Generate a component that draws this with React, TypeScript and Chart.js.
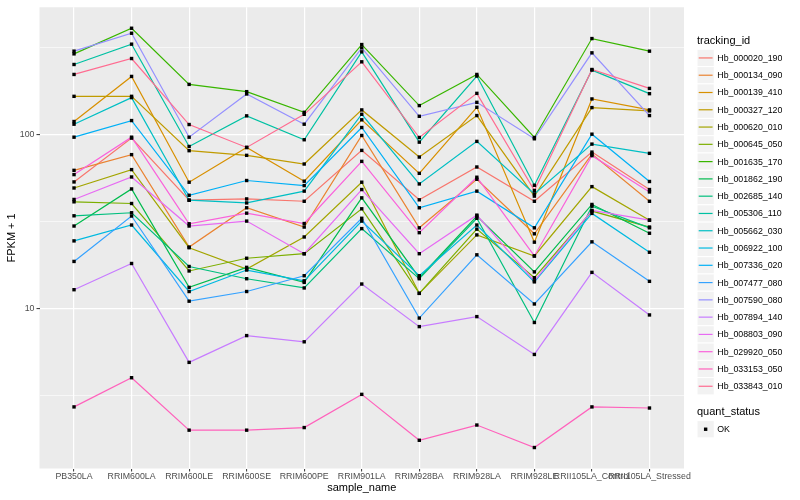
import React, { useEffect, useRef } from 'react';
import { Chart, registerables } from 'chart.js';

Chart.register(...registerables);

const sampleNames = [
  'PB350LA', 'RRIM600LA', 'RRIM600LE', 'RRIM600SE', 'RRIM600PE', 'RRIM901LA',
  'RRIM928BA', 'RRIM928LA', 'RRIM928LE', 'RRII105LA_Control', 'RRII105LA_Stressed',
];

const Hb_000020_190 = [53.2, 94.9, 41.8, 42.5, 41.2, 80.7, 42.0, 64.8, 41.2, 78.9, 48.1];
const Hb_000134_090 = [62.0, 76.3, 22.5, 37.8, 29.3, 98.3, 29.0, 55.1, 26.8, 76.9, 41.2];
const Hb_000139_410 = [118.2, 214.5, 53.0, 83.9, 53.7, 120.9, 59.6, 142.7, 24.0, 159.3, 137.8];
const Hb_000327_120 = [164.9, 164.9, 80.4, 75.6, 67.4, 137.8, 73.9, 127.9, 44.1, 142.1, 136.0];
const Hb_000620_010 = [49.1, 62.6, 22.3, 16.8, 25.7, 53.0, 12.2, 26.4, 20.0, 50.0, 32.1];
const Hb_000645_050 = [40.9, 40.0, 16.4, 19.4, 20.6, 37.3, 12.2, 28.5, 15.0, 36.2, 29.3];
const Hb_001635_170 = [289.1, 405.5, 193.1, 175.4, 133.5, 326.9, 145.9, 220.2, 95.7, 353.8, 299.6];
const Hb_001862_190 = [29.7, 48.5, 13.2, 17.2, 14.1, 43.1, 15.0, 33.9, 16.2, 39.5, 27.0];
const Hb_002685_140 = [34.0, 35.4, 17.4, 14.8, 13.1, 28.7, 14.8, 32.9, 8.3, 38.6, 29.0];
const Hb_005306_110 = [251.2, 328.6, 85.0, 127.4, 92.9, 296.9, 90.0, 215.6, 50.9, 233.3, 170.8];
const Hb_005662_030 = [114.1, 162.1, 41.8, 40.3, 47.1, 130.1, 51.8, 90.9, 45.4, 87.7, 77.6];
const Hb_006922_100 = [24.4, 30.1, 12.5, 16.6, 14.4, 31.7, 15.4, 30.1, 14.2, 35.1, 21.0];
const Hb_007336_020 = [96.1, 119.7, 44.6, 54.2, 50.7, 109.2, 37.8, 47.1, 29.0, 100.0, 53.5];
const Hb_007477_080 = [18.6, 33.9, 11.0, 12.5, 15.4, 32.9, 8.8, 20.3, 10.6, 24.1, 14.3];
const Hb_007590_080 = [299.6, 379.6, 96.1, 170.1, 114.1, 312.9, 126.7, 152.3, 94.1, 293.0, 127.9];
const Hb_007894_140 = [12.8, 18.1, 4.9, 6.98, 6.43, 13.8, 7.86, 8.97, 5.44, 16.1, 9.17];
const Hb_008803_090 = [42.2, 56.8, 29.7, 31.7, 20.6, 48.1, 20.6, 34.3, 14.4, 36.5, 32.1];
const Hb_029920_050 = [58.6, 96.1, 30.6, 35.2, 30.7, 69.8, 27.2, 56.6, 20.0, 75.3, 46.6];
const Hb_033153_050 = [2.72, 4.0, 2.0, 2.0, 2.07, 3.21, 1.75, 2.14, 1.59, 2.72, 2.68];
const Hb_033843_010 = [220.2, 271.8, 113.6, 83.9, 130.0, 260.2, 95.7, 171.5, 47.5, 235.1, 183.1];

const trackingIds = [
  'Hb_000020_190', 'Hb_000134_090', 'Hb_000139_410', 'Hb_000327_120', 'Hb_000620_010',
  'Hb_000645_050', 'Hb_001635_170', 'Hb_001862_190', 'Hb_002685_140', 'Hb_005306_110',
  'Hb_005662_030', 'Hb_006922_100', 'Hb_007336_020', 'Hb_007477_080', 'Hb_007590_080',
  'Hb_007894_140', 'Hb_008803_090', 'Hb_029920_050', 'Hb_033153_050', 'Hb_033843_010',
];

const seriesValues = [
  Hb_000020_190, Hb_000134_090, Hb_000139_410, Hb_000327_120, Hb_000620_010,
  Hb_000645_050, Hb_001635_170, Hb_001862_190, Hb_002685_140, Hb_005306_110,
  Hb_005662_030, Hb_006922_100, Hb_007336_020, Hb_007477_080, Hb_007590_080,
  Hb_007894_140, Hb_008803_090, Hb_029920_050, Hb_033153_050, Hb_033843_010,
];

const seriesColors = [
  '#F8766D', '#EA8331', '#D89000', '#C09B00', '#A3A500',
  '#7CAE00', '#39B600', '#00BB4E', '#00BF7D', '#00C1A3',
  '#00BFC4', '#00BAE0', '#00B0F6', '#35A2FF', '#9590FF',
  '#C77CFF', '#E76BF3', '#FA62DB', '#FF62BC', '#FF6C91',
];

const yMajorTicks = [10, 100];
const yMajorLabels = ['10', '100'];
const yMinorTicks = [3.1623, 31.623, 316.23];
const quantStatus = ['OK'];

const FONT = "'Liberation Sans', Arial, Helvetica, sans-serif";

const bgPlugin = {
  id: 'panelBg',
  beforeDraw(chart: any) {
    const { ctx, chartArea: a, width, height } = chart;
    ctx.save();
    ctx.fillStyle = '#FFFFFF';
    ctx.fillRect(0, 0, width, height);
    ctx.fillStyle = '#EBEBEB';
    ctx.fillRect(a.left, a.top, a.right - a.left, a.bottom - a.top);
    ctx.restore();
  },
};

const pointsPlugin = {
  id: 'pointsOnTop',
  afterDatasetsDraw(chart: any) {
    const { ctx, chartArea: a } = chart;
    ctx.save();
    ctx.beginPath();
    ctx.rect(a.left, a.top, a.right - a.left, a.bottom - a.top);
    ctx.clip();
    ctx.fillStyle = '#000000';
    const s = 3.4;
    chart.data.datasets.forEach((_: any, i: number) => {
      const meta = chart.getDatasetMeta(i);
      meta.data.forEach((el: any) => {
        ctx.fillRect(el.x - s / 2, el.y - s / 2, s, s);
      });
    });
    ctx.restore();
  },
};

const legendPlugin = {
  id: 'ggLegend',
  afterDraw(chart: any) {
    const { ctx } = chart;
    const x0 = 697;
    const key = 17.28;
    ctx.save();
    ctx.fillStyle = '#000000';
    ctx.font = `11px ${FONT}`;
    ctx.textAlign = 'left';
    ctx.textBaseline = 'alphabetic';
    ctx.fillText('tracking_id', x0, 44);
    const top = 49.3;
    chart.data.datasets.forEach((ds: any, i: number) => {
      const y = top + i * key;
      ctx.fillStyle = '#F2F2F2';
      ctx.fillRect(x0, y, key, key);
      ctx.strokeStyle = '#FFFFFF';
      ctx.lineWidth = 1;
      ctx.strokeRect(x0, y, key, key);
      ctx.strokeStyle = ds.borderColor;
      ctx.lineWidth = 1.2;
      ctx.beginPath();
      ctx.moveTo(x0 + 1.7, y + key / 2);
      ctx.lineTo(x0 + key - 1.7, y + key / 2);
      ctx.stroke();
      ctx.fillStyle = '#000000';
      ctx.font = `8.8px ${FONT}`;
      ctx.textBaseline = 'middle';
      ctx.fillText(ds.label, x0 + key + 3, y + key / 2 + 0.5);
    });
    ctx.font = `11px ${FONT}`;
    ctx.textBaseline = 'alphabetic';
    ctx.fillText('quant_status', x0, 415);
    quantStatus.forEach((q, i) => {
      const y = 420.6 + i * key;
      ctx.fillStyle = '#F2F2F2';
      ctx.fillRect(x0, y, key, key);
      ctx.strokeStyle = '#FFFFFF';
      ctx.lineWidth = 1;
      ctx.strokeRect(x0, y, key, key);
      ctx.fillStyle = '#000000';
      ctx.fillRect(x0 + key / 2 - 1.7, y + key / 2 - 1.7, 3.4, 3.4);
      ctx.font = `8.8px ${FONT}`;
      ctx.textBaseline = 'middle';
      ctx.fillText(q, x0 + key + 3, y + key / 2 + 0.5);
    });
    ctx.restore();
  },
};

export default function App() {
  const canvasRef = useRef<HTMLCanvasElement | null>(null);

  useEffect(() => {
    if (!canvasRef.current) return;
    const datasets = seriesValues.map((vals, i) => ({
      label: trackingIds[i],
      data: vals.map((v, j) => ({ x: j, y: v })),
      borderColor: seriesColors[i],
      backgroundColor: seriesColors[i],
      borderWidth: 1.2,
      pointRadius: 0,
      pointHoverRadius: 0,
      tension: 0,
      fill: false,
      order: -i,
    }));

    const chart = new Chart(canvasRef.current, {
      type: 'line',
      data: { datasets },
      plugins: [bgPlugin, pointsPlugin, legendPlugin],
      options: {
        animation: false,
        responsive: false,
        devicePixelRatio: 1,
        layout: { padding: { left: 0, right: 116, top: 5.2, bottom: 0 } },
        plugins: {
          legend: { display: false },
          tooltip: { enabled: false },
          title: { display: false },
        },
        scales: {
          x: {
            type: 'linear',
            min: -0.6,
            max: 10.6,
            bounds: 'data',
            afterBuildTicks: (scale: any) => {
              scale.ticks = sampleNames.map((_, i) => ({ value: i }));
            },
            afterFit: (scale: any) => {
              scale.height = 31.5;
            },
            border: { display: false },
            grid: {
              color: '#FFFFFF',
              lineWidth: 1.2,
              drawTicks: true,
              tickLength: 3,
              tickColor: '#333333',
              tickWidth: 1,
            },
            ticks: {
              autoSkip: false,
              maxRotation: 0,
              minRotation: 0,
              padding: 0,
              color: '#4D4D4D',
              font: { family: FONT, size: 8.8 },
              callback: (value: any) => sampleNames[Math.round(value)] ?? '',
            },
            title: {
              display: true,
              text: 'sample_name',
              color: '#000000',
              font: { family: FONT, size: 11 },
              padding: { top: 0, bottom: 5 },
            },
          },
          y: {
            type: 'logarithmic',
            min: 1.205,
            max: 535,
            bounds: 'data',
            afterBuildTicks: (scale: any) => {
              scale.ticks = [...yMinorTicks, ...yMajorTicks]
                .sort((a, b) => a - b)
                .map((v) => ({ value: v }));
            },
            afterFit: (scale: any) => {
              scale.width = 39.5;
            },
            border: { display: false },
            grid: {
              color: '#FFFFFF',
              lineWidth: (ctx: any) =>
                ctx.tick && yMajorTicks.includes(ctx.tick.value) ? 1.2 : 0.6,
              drawTicks: true,
              tickLength: 3,
              tickWidth: 1,
              tickColor: (ctx: any) =>
                ctx.tick && yMajorTicks.includes(ctx.tick.value) ? '#333333' : 'rgba(0,0,0,0)',
            },
            ticks: {
              autoSkip: false,
              padding: 2,
              color: '#4D4D4D',
              font: { family: FONT, size: 8.8 },
              callback: (value: any) => {
                const k = yMajorTicks.indexOf(Number(value));
                return k >= 0 ? yMajorLabels[k] : '';
              },
            },
            title: {
              display: true,
              text: 'FPKM + 1',
              color: '#000000',
              font: { family: FONT, size: 11 },
              padding: { top: 5.4, bottom: 0 },
            },
          },
        },
      } as any,
    });
    return () => chart.destroy();
  }, []);

  return (
    <div style={{ position: 'fixed', left: 0, top: 0, width: 800, height: 500, background: '#FFFFFF' }}>
      <canvas ref={canvasRef} width={800} height={500} />
    </div>
  );
}
